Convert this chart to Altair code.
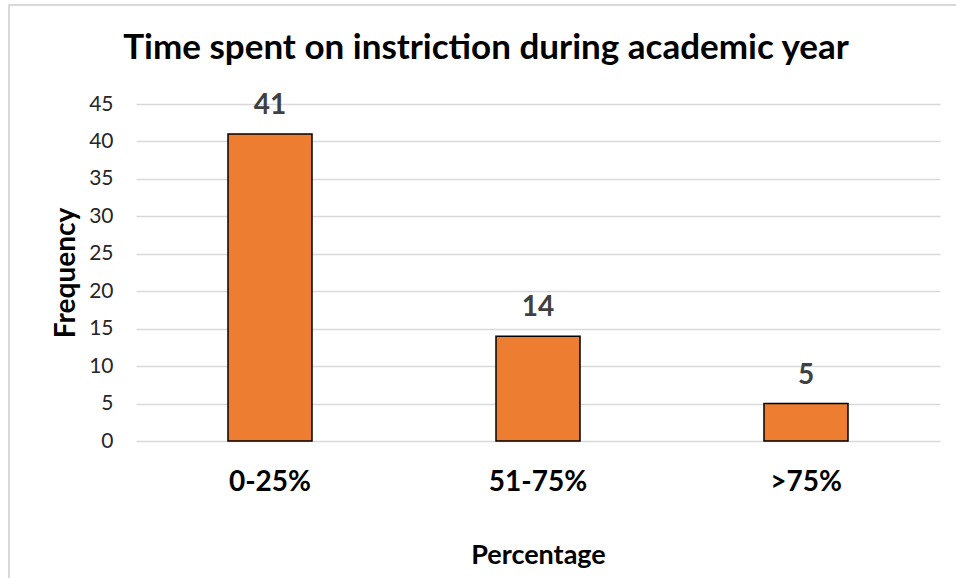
import altair as alt
import pandas as pd

categories = ["0-25%", "51-75%", ">75%"]
frequency = [41, 14, 5]
y_ticks = [0, 5, 10, 15, 20, 25, 30, 35, 40, 45]

df = pd.DataFrame({"Percentage": categories, "Frequency": frequency})

FONT = "Lato"

x_enc = alt.X(
    "Percentage:N",
    sort=categories,
    scale=alt.Scale(paddingInner=0, paddingOuter=0),
    axis=alt.Axis(
        title="Percentage",
        labelAngle=0,
        labelFont=FONT,
        labelFontSize=28,
        labelFontWeight="bold",
        labelColor="#000000",
        labelPadding=27,
        ticks=False,
        domain=False,
        titleFont=FONT,
        titleFontSize=27,
        titleFontWeight="bold",
        titleColor="#000000",
        titleBaseline="middle",
        titleY=114,
    ),
)
y_enc = alt.Y(
    "Frequency:Q",
    scale=alt.Scale(domain=[0, 45], nice=False),
    axis=alt.Axis(
        title="Frequency",
        values=y_ticks,
        labelOverlap=False,
        labelFont=FONT,
        labelFontSize=21,
        labelColor="#262626",
        labelPadding=23,
        ticks=False,
        domain=False,
        gridColor="#d9d9d9",
        gridWidth=1.5,
        titleFont=FONT,
        titleFontSize=28,
        titleFontWeight="bold",
        titleColor="#000000",
        titleAngle=270,
        titleAlign="center",
        titleBaseline="middle",
        titleX=-70,
        titleY=168.5,
    ),
)

border = alt.Chart(df).mark_rect(
    fill=None, stroke="#d9d9d9", strokeWidth=1.5, clip=False
).encode(
    x=alt.value(-127), x2=alt.value(840), y=alt.value(-99), y2=alt.value(490)
)

bars = alt.Chart(df).mark_bar(
    size=84, color="#ED7D31", stroke="#000000", strokeWidth=1.5
).encode(x=x_enc, y=y_enc)

labels = alt.Chart(df).mark_text(
    font=FONT, fontSize=28, fontWeight="bold", color="#404040",
    baseline="alphabetic", dy=-20
).encode(
    x=x_enc,
    y=y_enc,
    text=alt.Text("Frequency:Q"),
)

chart = alt.layer(border, bars, labels).properties(
    width=804,
    height=337,
    title=alt.TitleParams(
        "Time spent on instriction during academic year",
        font=FONT,
        fontSize=35,
        fontWeight="bold",
        color="#000000",
        anchor="middle",
        frame="group",
        baseline="alphabetic",
        offset=0,
        dx=-52,
        dy=90,
    ),
    autosize=alt.AutoSizeParams(type="none"),
    padding={"left": 136, "top": 104, "right": 16, "bottom": 137},
    background="#ffffff",
).configure_view(stroke=None)

chart.save("out.html", embed_options={"renderer": "svg", "actions": False})
